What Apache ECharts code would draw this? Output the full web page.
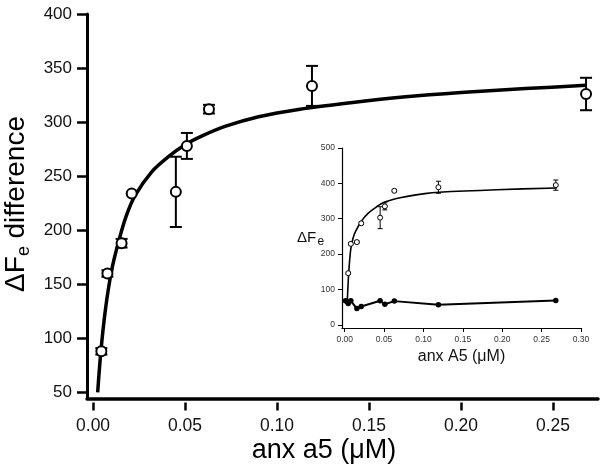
<!DOCTYPE html>
<html>
<head>
<meta charset="utf-8">
<script src="https://cdn.jsdelivr.net/npm/echarts@6/dist/echarts.min.js"></script>
<style>html,body{margin:0;padding:0;background:#fff;}#c{width:604px;height:474px;}</style>
</head>
<body>
<div id="c"></div>
<script>
// ---- Main chart data ----
const mainX = [0.0045, 0.0078, 0.0155, 0.021, 0.045, 0.051, 0.063, 0.119, 0.268];
const mainY = [88, 160, 188, 234, 235.5, 278, 312, 333.5, 326];
const mainErr = [3, 3, 4, 0, 32.5, 12, 4, 18.5, 15];
const mainFitX = [0.0025, 0.0043, 0.0069, 0.0101, 0.0138, 0.018, 0.0228, 0.0319, 0.041, 0.05, 0.059, 0.0717, 0.09, 0.1125, 0.14, 0.167, 0.2, 0.235, 0.268];
const mainFitY = [50, 89, 129, 163, 189, 213, 232, 254, 268, 279, 287, 296, 305, 312, 318, 323, 327.5, 331, 334];
const mainXTicks = [0, 0.05, 0.10, 0.15, 0.20, 0.25];
const mainYTicks = [50, 100, 150, 200, 250, 300, 350, 400];

// ---- Inset data ----
const insetOpenX = [0.0045, 0.0078, 0.0155, 0.021, 0.045, 0.051, 0.063, 0.119, 0.268];
const insetOpenY = [146, 229, 234, 287, 303, 335, 379, 389, 395];
const insetOpenErr = [3, 3, 3, 3, 31, 10, 3, 17, 14.5];
const insetFitX = [0.0034, 0.0051, 0.0076, 0.0106, 0.014, 0.0212, 0.0296, 0.04, 0.0508, 0.072, 0.1017, 0.12, 0.193, 0.269];
const insetFitY = [71, 146, 212, 245, 265, 293, 315, 333, 347, 360, 371, 375, 382, 387];
const insetFilledX = [0.001, 0.003, 0.0045, 0.0078, 0.0155, 0.021, 0.045, 0.051, 0.063, 0.119, 0.268];
const insetFilledY = [68, 66, 60, 68, 46, 52, 68, 58, 67, 57, 69];
const insetXTicks = [0, 0.05, 0.10, 0.15, 0.20, 0.25, 0.30];
const insetYTicks = [0, 100, 200, 300, 400, 500];

const FONT = "'Liberation Sans', Arial, sans-serif";
const zip = (a, b, c) => a.map((v, i) => c ? [v, b[i], c[i]] : [v, b[i]]);

function errRender(capHalf, lw) {
  return function (params, api) {
    const x = api.value(0), y = api.value(1), e = api.value(2);
    if (!e) return null;
    const top = api.coord([x, y + e]);
    const bot = api.coord([x, y - e]);
    const st = { stroke: '#000', lineWidth: lw };
    return {
      type: 'group',
      children: [
        { type: 'line', shape: { x1: top[0], y1: top[1], x2: bot[0], y2: bot[1] }, style: st },
        { type: 'line', shape: { x1: top[0] - capHalf, y1: top[1], x2: top[0] + capHalf, y2: top[1] }, style: st },
        { type: 'line', shape: { x1: bot[0] - capHalf, y1: bot[1], x2: bot[0] + capHalf, y2: bot[1] }, style: st }
      ]
    };
  };
}

const chart = echarts.init(document.getElementById('c'), null, { renderer: 'canvas' });
chart.setOption({
  animation: false,
  backgroundColor: '#fff',
  textStyle: { fontFamily: FONT },
  grid: [
    { left: 87, top: 14, width: 511, height: 384.5 },
    { left: 342, top: 148, width: 239, height: 180 }
  ],
  xAxis: [
    { gridIndex: 0, type: 'value', min: -0.0033, max: 0.2745,
      axisLine: { show: true, onZero: false, lineStyle: { color: '#000', width: 3.5 } },
      axisTick: { show: false }, axisLabel: { show: false }, splitLine: { show: false } },
    { gridIndex: 0, type: 'value', min: -0.0033, max: 0.2745, position: 'bottom', offset: 4,
      axisLine: { show: false, onZero: false },
      axisTick: { show: true, customValues: mainXTicks, length: 8, lineStyle: { color: '#000', width: 2.5 } },
      axisLabel: { show: true, customValues: mainXTicks, formatter: v => v.toFixed(2), fontSize: 17.5, color: '#111', margin: 15, fontFamily: FONT },
      splitLine: { show: false } },
    { gridIndex: 1, type: 'value', min: -0.0034, max: 0.30,
      axisLine: { show: true, onZero: false, lineStyle: { color: '#000', width: 1.2 } },
      axisTick: { show: true, customValues: insetXTicks, length: 4, lineStyle: { color: '#000', width: 1 } },
      axisLabel: { show: true, customValues: insetXTicks, formatter: v => v.toFixed(2), fontSize: 8.5, color: '#333', margin: 7, fontFamily: FONT },
      splitLine: { show: false } }
  ],
  yAxis: [
    { gridIndex: 0, type: 'value', min: 44.4, max: 400,
      axisLine: { show: true, onZero: false, lineStyle: { color: '#000', width: 3 } },
      axisTick: { show: true, customValues: mainYTicks, length: 10, lineStyle: { color: '#000', width: 2.5 } },
      axisLabel: { show: true, customValues: mainYTicks, fontSize: 17, color: '#111', margin: 15, fontFamily: FONT },
      splitLine: { show: false } },
    { gridIndex: 1, type: 'value', min: -9, max: 500,
      axisLine: { show: true, onZero: false, lineStyle: { color: '#000', width: 1.2 } },
      axisTick: { show: true, customValues: insetYTicks, length: 4, lineStyle: { color: '#000', width: 1 } },
      axisLabel: { show: true, customValues: insetYTicks, fontSize: 8.5, color: '#333', margin: 7, fontFamily: FONT },
      splitLine: { show: false } }
  ],
  series: [
    { type: 'line', xAxisIndex: 0, yAxisIndex: 0, data: zip(mainFitX, mainFitY), smooth: 0.3,
      showSymbol: false, lineStyle: { color: '#000', width: 3.5 }, z: 2 },
    { type: 'custom', xAxisIndex: 0, yAxisIndex: 0, data: zip(mainX, mainY, mainErr),
      renderItem: errRender(6, 2), z: 3 },
    { type: 'scatter', xAxisIndex: 0, yAxisIndex: 0, data: zip(mainX, mainY), symbol: 'circle', symbolSize: 10,
      itemStyle: { color: '#fff', borderColor: '#000', borderWidth: 2, opacity: 1 }, z: 4 },

    { type: 'line', xAxisIndex: 2, yAxisIndex: 1, data: zip(insetFitX, insetFitY), smooth: 0.3,
      showSymbol: false, lineStyle: { color: '#000', width: 1.6 }, z: 2 },
    { type: 'line', xAxisIndex: 2, yAxisIndex: 1, data: zip(insetFilledX, insetFilledY),
      symbol: 'circle', symbolSize: 5.5, showSymbol: true, itemStyle: { color: '#000', opacity: 1 },
      lineStyle: { color: '#000', width: 2 }, z: 3 },
    { type: 'custom', xAxisIndex: 2, yAxisIndex: 1, data: zip(insetOpenX, insetOpenY, insetOpenErr),
      renderItem: errRender(2.5, 1), z: 3 },
    { type: 'scatter', xAxisIndex: 2, yAxisIndex: 1, data: zip(insetOpenX, insetOpenY), symbol: 'circle', symbolSize: 5,
      itemStyle: { color: '#fff', borderColor: '#000', borderWidth: 1, opacity: 1 }, z: 4 }
  ],
  graphic: [
    { type: 'group', x: 16.5, y: 292, rotation: Math.PI / 2, children: [
      { type: 'text', x: 0, y: 0, style: { text: 'ΔF', font: '28px ' + FONT, fill: '#000', align: 'left', verticalAlign: 'middle' } },
      { type: 'text', x: 36, y: 8, style: { text: 'e', font: '18px ' + FONT, fill: '#000', align: 'left', verticalAlign: 'middle' } },
      { type: 'text', x: 53.5, y: 0, style: { text: 'difference', font: '28px ' + FONT, fill: '#000', align: 'left', verticalAlign: 'middle' } }
    ]},
    { type: 'text', x: 324, y: 451, style: { text: 'anx a5 (μM)', font: '27px ' + FONT, fill: '#000', align: 'center', verticalAlign: 'middle' } },
    { type: 'text', x: 297, y: 237.5, style: { text: 'ΔF', font: '15px ' + FONT, fill: '#111', align: 'left', verticalAlign: 'middle' } },
    { type: 'text', x: 317.5, y: 241.5, style: { text: 'e', font: '12px ' + FONT, fill: '#111', align: 'left', verticalAlign: 'middle' } },
    { type: 'text', x: 461.5, y: 356.5, style: { text: 'anx A5 (μM)', font: '16px ' + FONT, fill: '#111', align: 'center', verticalAlign: 'middle' } }
  ]
});
</script>
</body>
</html>
